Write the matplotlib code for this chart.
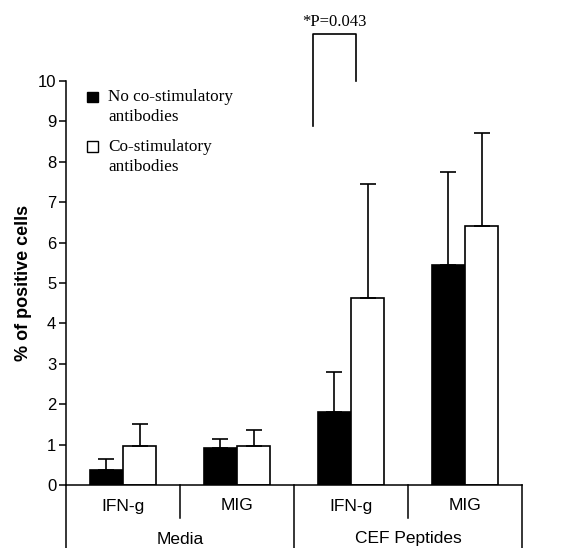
import matplotlib
matplotlib.use("Agg")
import matplotlib.pyplot as plt
from matplotlib.patches import Rectangle
import numpy as np

# Data
stimuli = ["Media", "CEF Peptides"]
markers = ["IFN-g", "MIG", "IFN-g", "MIG"]
no_costim = [0.37, 0.91, 1.80, 5.45]
no_costim_err = [0.28, 0.23, 1.00, 2.30]
costim = [0.97, 0.97, 4.63, 6.42]
costim_err = [0.53, 0.38, 2.82, 2.30]
ytick_vals = list(range(0, 11))
p_text = "*P=0.043"
legend_lines = [["No co-stimulatory", "antibodies"], ["Co-stimulatory", "antibodies"]]
legend_colors = ["black", "white"]

sans = ["Liberation Sans", "DejaVu Sans"]
serif = ["Liberation Serif", "DejaVu Serif"]

fig = plt.figure(figsize=(5.69, 5.48), dpi=100)
W, H = 569, 548
AX_L, AX_R, AX_B, AX_T = 66, 522, 485, 81
ax = fig.add_axes([AX_L / W, (H - AX_B) / H, (AX_R - AX_L) / W, (AX_B - AX_T) / H])


def fx(px):
    return (px - AX_L) / (AX_R - AX_L)


def fy(py):
    return (AX_B - py) / (AX_B - AX_T)


x = np.arange(len(markers)) + 0.5
bw = 0.29
ax.bar(x - bw / 2, no_costim, width=bw, color="black", edgecolor="black", linewidth=1.2, zorder=2)
ax.bar(x + bw / 2, costim, width=bw, color="white", edgecolor="black", linewidth=1.2, zorder=2)
zeros = np.zeros(len(markers))
ax.errorbar(x - bw / 2, no_costim, yerr=[zeros, no_costim_err], fmt="none", ecolor="black",
            elinewidth=1.2, capsize=5.5, capthick=1.2, zorder=3)
ax.errorbar(x + bw / 2, costim, yerr=[zeros, costim_err], fmt="none", ecolor="black",
            elinewidth=1.2, capsize=5.5, capthick=1.2, zorder=3)

ax.set_xlim(0, 4)
ax.set_ylim(0, 10)
ax.set_yticks(ytick_vals)
ax.set_yticklabels([str(v) for v in ytick_vals], fontfamily=sans, fontsize=12)
ax.tick_params(axis="y", direction="out", length=5, width=1.1, pad=2)
ax.set_xticks([])
for s in ["top", "right"]:
    ax.spines[s].set_visible(False)
ax.spines["left"].set_linewidth(1.1)
ax.spines["bottom"].set_linewidth(1.1)
ax.set_ylabel("% of positive cells", fontfamily=sans, fontsize=13, fontweight="bold")
ax.yaxis.set_label_coords(fx(32), 0.5)

# Category table below axis
tr = ax.get_xaxis_transform()
full_bottom = fy(550)
short_bottom = fy(518)
for xv, yb in [(0, full_bottom), (1, short_bottom), (2, full_bottom), (3, short_bottom), (4, full_bottom)]:
    ax.plot([xv, xv], [0, yb], transform=tr, color="black", lw=1.1, clip_on=False)
for xi, lab in zip(x, markers):
    ax.text(xi, fy(506), lab, transform=tr, ha="center", va="center", fontfamily=sans, fontsize=12.5)
for i, lab in enumerate(stimuli):
    ax.text(2 * i + 1, fy(539), lab, transform=tr, ha="center", va="center", fontfamily=sans, fontsize=12.5)

# Significance bracket
bl, br = 2.167, 2.544
ax.plot([bl, bl, br, br], [8.89, 11.16, 11.16, 10.0], color="black", lw=1.2, clip_on=False)
ax.text((bl + br) / 2, 11.36, p_text, ha="center", va="baseline", fontfamily=serif, fontsize=12)

# Legend (drawn manually)
sq = 10.5
for i, (lines, col) in enumerate(zip(legend_lines, legend_colors)):
    cy = 97 + i * 49.5
    ax.add_patch(Rectangle((fx(87), fy(cy + sq / 2)), sq / (AX_R - AX_L), sq / (AX_B - AX_T),
                           transform=ax.transAxes, facecolor=col, edgecolor="black",
                           linewidth=1.0, clip_on=False, zorder=4))
    base = 101 + i * 50
    for j, ln in enumerate(lines):
        ax.text(fx(108), fy(base + j * 20), ln, transform=ax.transAxes, ha="left", va="baseline",
                fontfamily=serif, fontsize=12.3)

fig.savefig("out.png", dpi=100)
